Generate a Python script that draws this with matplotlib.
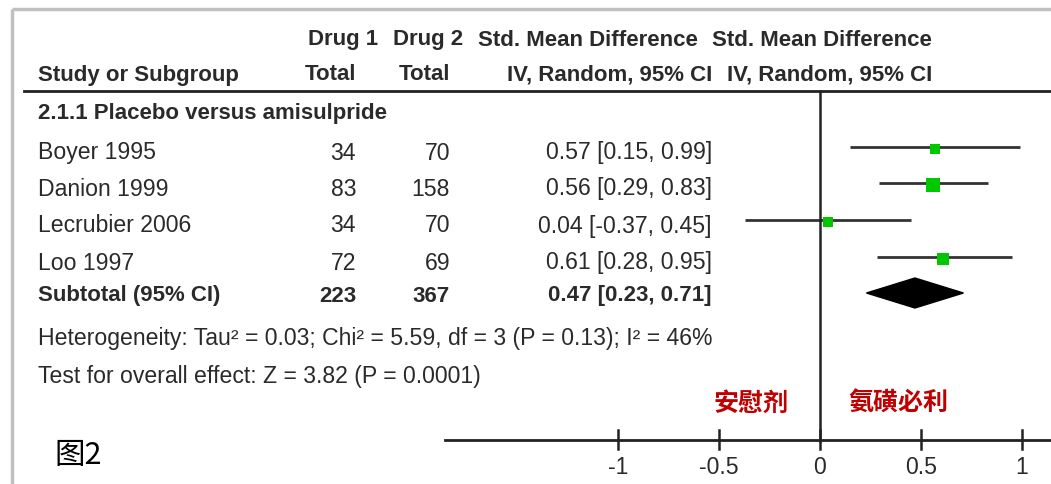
import matplotlib
matplotlib.use("Agg")
import matplotlib.pyplot as plt
from matplotlib.patches import Polygon, Rectangle

# data
studies = ["Boyer 1995", "Danion 1999", "Lecrubier 2006", "Loo 1997"]
drug1_total = [34, 83, 34, 72]
drug2_total = [70, 158, 70, 69]
smd = [0.57, 0.56, 0.04, 0.61]
ci_low = [0.15, 0.29, -0.37, 0.28]
ci_high = [0.99, 0.83, 0.45, 0.95]
box_px = [10, 14, 10, 12]          # square size ~ study weight
subtotal_n = [223, 367]
sub_smd, sub_low, sub_high = 0.47, 0.23, 0.71
heterogeneity = "Heterogeneity: Tau² = 0.03; Chi² = 5.59, df = 3 (P = 0.13); I² = 46%"
overall = "Test for overall effect: Z = 3.82 (P = 0.0001)"
ticks = [-1, -0.5, 0, 0.5, 1]
tick_labels = ["-1", "-0.5", "0", "0.5", "1"]

TC = "#2a2a2a"
GREEN = "#00c800"
FS = 16.6
FSB = 16
plt.rcParams["font.family"] = ["Liberation Sans", "DejaVu Sans"]

fig = plt.figure(figsize=(10.51, 4.84), dpi=100)
ax = fig.add_axes([0, 0, 1, 1])
X0, U = 820, 202          # pixel of x=0, pixels per unit
ax.set_xlim(-X0 / U, (1051 - X0) / U)
ax.set_ylim(484, 0)
ax.axis("off")


def px(x):
    return (x - X0) / U


# frame of the screenshot
ax.plot([px(12), px(1051)], [9, 9], color="#c0c0c0", lw=2.5, solid_capstyle="butt")
ax.plot([px(12), px(12)], [9, 484], color="#c0c0c0", lw=2.5, solid_capstyle="butt")

# header
hb = dict(fontsize=FSB, fontweight="bold", color=TC, va="center")
ax.text(px(378), 40, "Drug 1", ha="right", **hb)
ax.text(px(463), 40, "Drug 2", ha="right", **hb)
ax.text(px(478), 40, "Std. Mean Difference", ha="left", **hb)
ax.text(px(932), 40, "Std. Mean Difference", ha="right", **hb)
ax.text(px(38), 75, "Study or Subgroup", ha="left", **hb)
ax.text(px(356), 75, "Total", ha="right", **hb)
ax.text(px(450), 75, "Total", ha="right", **hb)
ax.text(px(712), 75, "IV, Random, 95% CI", ha="right", **hb)
ax.text(px(932), 75, "IV, Random, 95% CI", ha="right", **hb)
ax.plot([px(24), px(1051)], [91, 91], color="#222222", lw=2)

ax.text(px(38), 113, "2.1.1 Placebo versus amisulpride", ha="left", **hb)

# study rows
row_y = [153, 189, 226, 263]
tr = dict(fontsize=FS, color=TC, va="center")
for i, name in enumerate(studies):
    y = row_y[i]
    ax.text(px(38), y, name, ha="left", **tr)
    ax.text(px(356), y, str(drug1_total[i]), ha="right", **tr)
    ax.text(px(450), y, str(drug2_total[i]), ha="right", **tr)
    ax.text(px(712), y, f"{smd[i]:.2f} [{ci_low[i]:.2f}, {ci_high[i]:.2f}]", ha="right", **tr)
    ym = y - 6
    ax.plot([ci_low[i], ci_high[i]], [ym, ym], color="#333333", lw=2, solid_capstyle="butt")
    s = box_px[i]
    ax.add_patch(Rectangle((smd[i] - s / 2 / U, ym - s / 2 + 2), s / U, s,
                           facecolor=GREEN, edgecolor="none", zorder=3))

# subtotal
ys = 296
ax.text(px(38), ys, "Subtotal (95% CI)", ha="left", **hb)
ax.text(px(356), ys, str(subtotal_n[0]), ha="right", **hb)
ax.text(px(450), ys, str(subtotal_n[1]), ha="right", **hb)
ax.text(px(712), ys, f"{sub_smd:.2f} [{sub_low:.2f}, {sub_high:.2f}]", ha="right", **hb)
yd = ys - 3
ax.add_patch(Polygon([(sub_low, yd), (sub_smd, yd - 15), (sub_high, yd), (sub_smd, yd + 15)],
                     closed=True, facecolor="black", edgecolor="black", zorder=3))

ax.text(px(38), 338, heterogeneity, ha="left", **tr)
ax.text(px(38), 376, overall, ha="left", **tr)

# zero line and axis
ax.plot([0, 0], [91, 441], color="#222222", lw=1.8)
ax.plot([px(445), px(1051)], [440, 440], color="#222222", lw=2)
for t, lab in zip(ticks, tick_labels):
    ax.plot([t, t], [430, 449], color="#222222", lw=1.8)
    ax.text(t, 467, lab, ha="center", va="center", fontsize=FS, color=TC)

cj = dict(fontsize=18, fontweight="bold", color="#c00000", va="center", ha="center",
          family=["Noto Sans CJK SC", "DejaVu Sans"])
ax.text(px(751), 404, "安慰剂", **cj)
ax.text(px(898), 404, "氨磺必利", **cj)

ax.text(px(54), 455, "图2", ha="left", va="center", fontsize=22, color="black",
        family=["Noto Sans CJK SC", "DejaVu Sans"])

fig.savefig("out.png", dpi=100, facecolor="white")
